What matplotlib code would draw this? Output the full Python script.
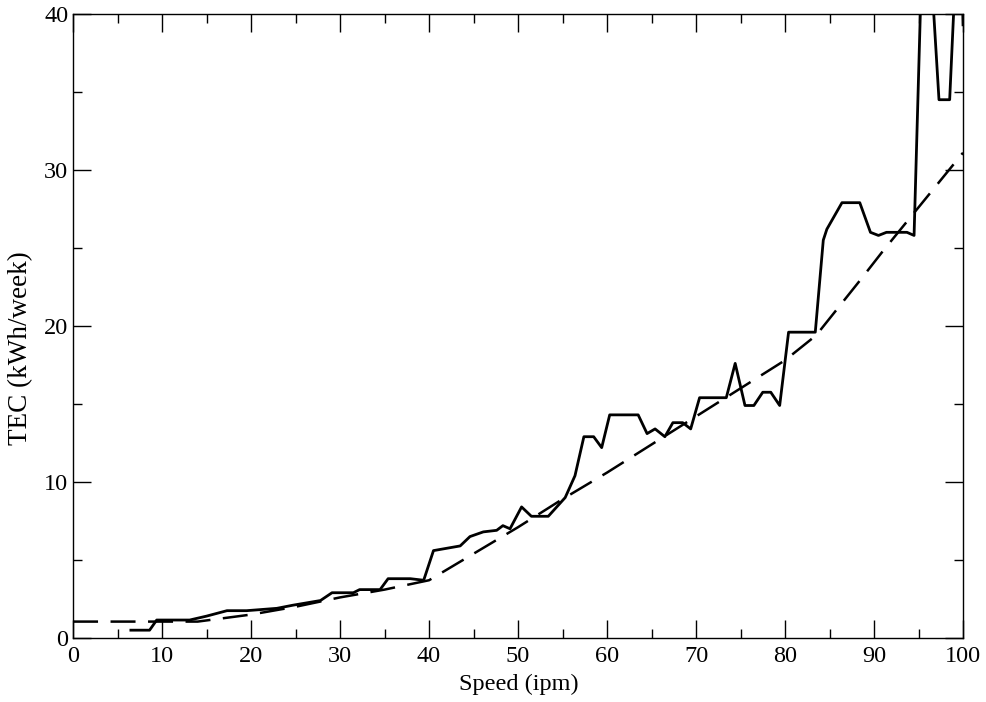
import matplotlib
matplotlib.use("Agg")
import numpy as np
import matplotlib.pyplot as plt

# measured TEC vs speed (solid)
speed = [6.5, 8.6, 9.4, 13.1, 15.0, 17.3, 19.5, 22.9, 24.7, 27.8, 29.1, 31.5,
         32.2, 34.5, 35.4, 37.9, 39.4, 40.5, 43.5, 44.6, 46.1, 47.6, 48.3, 49.1,
         50.4, 51.5, 53.4, 55.3, 56.4, 57.4, 58.5, 59.4, 60.3, 63.5, 64.5, 65.4,
         66.5, 67.4, 68.5, 69.4, 70.4, 73.4, 74.4, 75.5, 76.5, 77.5, 78.4, 79.4,
         80.4, 83.4, 84.3, 84.7, 86.4, 88.4, 89.6, 90.5, 91.4, 93.7, 94.5, 95.3,
         96.5, 97.3, 98.5, 99.1, 99.9, 100.0]
tec = [0.5, 0.5, 1.15, 1.15, 1.4, 1.75, 1.75, 1.9, 2.1, 2.4, 2.9, 2.9,
       3.1, 3.1, 3.8, 3.8, 3.7, 5.6, 5.9, 6.5, 6.8, 6.9, 7.2, 7.0,
       8.4, 7.8, 7.8, 9.0, 10.4, 12.9, 12.9, 12.2, 14.3, 14.3, 13.1, 13.4,
       12.9, 13.8, 13.8, 13.4, 15.4, 15.4, 17.6, 14.9, 14.9, 15.75, 15.75, 14.9,
       19.6, 19.6, 25.5, 26.2, 27.9, 27.9, 26.0, 25.8, 26.0, 26.0, 25.8, 42.0,
       42.0, 34.5, 34.5, 42.0, 42.0, 39.3]

# fitted curve (dashed)
fit_speed = [0, 5, 10, 14, 20, 25, 30, 35, 40, 45, 50, 55, 60, 65, 70, 75,
             80, 83.5, 88.4, 91, 95, 100]
fit_tec = [1.05, 1.05, 1.05, 1.05, 1.5, 2.0, 2.6, 3.1, 3.7, 5.4, 7.1, 8.9,
           10.6, 12.4, 14.2, 16.0, 17.8, 19.4, 22.9, 24.8, 27.6, 31.1]

plt.rcParams['font.family'] = ['Liberation Serif', 'DejaVu Serif']

fig = plt.figure(figsize=(9.87, 7.02), dpi=100)
ax = fig.add_axes([0.074, 0.0912, 0.9017, 0.889])

ax.plot(speed, tec, color='black', lw=2.0)
ax.plot(fit_speed, fit_tec, color='black', lw=1.8, dashes=(10, 5))

ax.set_xlim(0, 100)
ax.set_ylim(0, 40)
ax.set_xticks(np.arange(0, 101, 10))
ax.set_xticks(np.arange(5, 100, 10), minor=True)
ax.set_yticks(np.arange(0, 41, 10))
ax.set_yticks(np.arange(5, 40, 10), minor=True)

ax.tick_params(which='both', direction='in', top=True, right=True,
               labelsize=17.5, width=1.0)
ax.tick_params(which='major', length=13)
ax.tick_params(axis='x', which='major', pad=6)
ax.tick_params(axis='y', which='major', pad=3.5)
ax.tick_params(which='minor', length=6.5)
for s in ax.spines.values():
    s.set_linewidth(1.0)

ax.set_xlabel('Speed (ipm)', fontsize=17.5)
ax.set_ylabel('TEC (kWh/week)', fontsize=19.5)
ax.xaxis.set_label_coords(0.501, -0.058)
ax.yaxis.set_label_coords(-0.045, 0.464)

fig.savefig('out.png', dpi=100)
